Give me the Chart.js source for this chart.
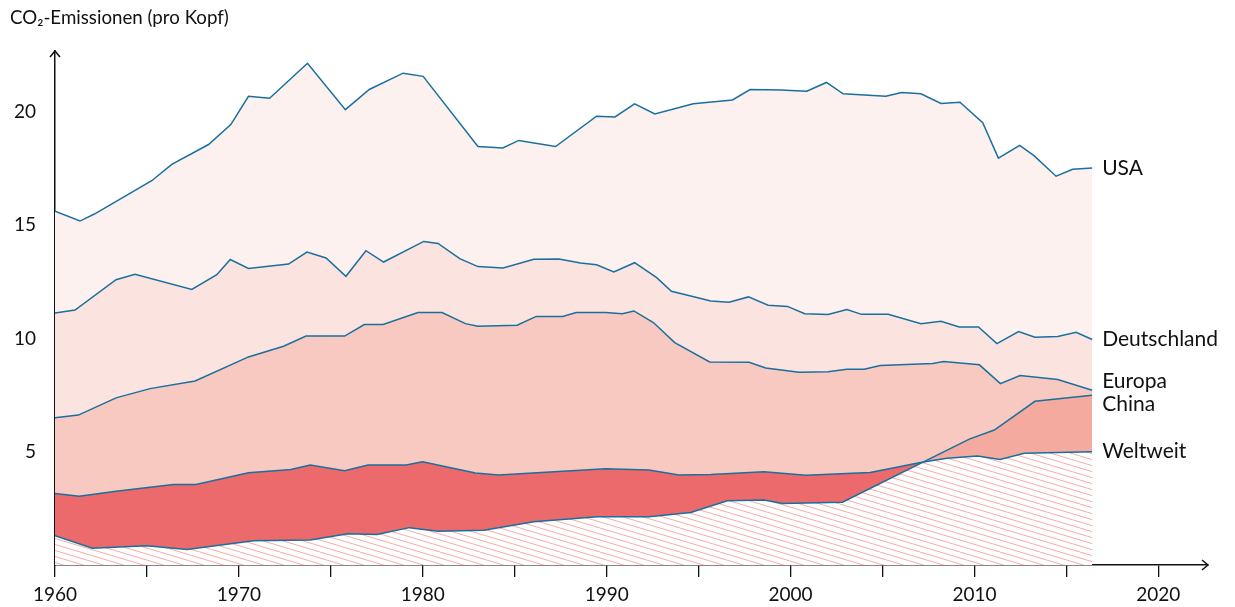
<!DOCTYPE html>
<html>
<head>
<meta charset="utf-8">
<script src="https://cdn.jsdelivr.net/npm/chart.js@4.4.1/dist/chart.umd.min.js"></script>
<style>
  html, body { margin: 0; padding: 0; background: #fff; }
  #wrap { width: 1235px; height: 607px; }
</style>
</head>
<body>
<div id="wrap"><canvas id="chart" width="1235" height="607"></canvas></div>
<script>
// CO2-Emissionen pro Kopf (t)
const usaYears = [1960, 1961.36, 1962.14, 1965.26, 1966.35, 1968.35, 1969.56, 1970.52, 1971.67, 1973.73, 1975.79, 1977.09, 1978.93, 1980.02, 1983.0, 1984.35, 1985.22, 1987.22, 1989.45, 1990.45, 1991.52, 1992.62, 1994.71, 1996.84, 1997.8, 1999.47, 2000.88, 2001.95, 2002.86, 2005.18, 2006.04, 2007.09, 2008.18, 2009.21, 2010.45, 2011.3, 2012.46, 2013.22, 2014.44, 2015.34, 2016.4];
const usaValues = [15.62, 15.19, 15.5, 16.97, 17.69, 18.57, 19.45, 20.7, 20.61, 22.16, 20.11, 21.0, 21.72, 21.58, 18.48, 18.42, 18.75, 18.48, 19.82, 19.79, 20.37, 19.92, 20.37, 20.54, 21.0, 20.98, 20.92, 21.31, 20.81, 20.7, 20.87, 20.81, 20.38, 20.44, 19.53, 17.97, 18.53, 18.09, 17.17, 17.48, 17.53];

const deuYears = [1960, 1961.09, 1963.32, 1964.35, 1967.44, 1968.8, 1969.53, 1970.52, 1972.7, 1973.7, 1974.74, 1975.82, 1976.91, 1977.87, 1980.05, 1980.83, 1982.01, 1983.0, 1984.37, 1986.04, 1987.4, 1988.58, 1989.45, 1990.39, 1991.52, 1992.72, 1993.52, 1994.57, 1995.66, 1996.65, 1997.71, 1998.78, 1999.83, 2000.77, 2002.04, 2003.06, 2003.86, 2005.31, 2007.09, 2008.18, 2009.17, 2010.22, 2011.22, 2012.4, 2013.29, 2014.53, 2015.53, 2016.4];
const deuValues = [11.13, 11.26, 12.6, 12.84, 12.17, 12.82, 13.49, 13.1, 13.29, 13.82, 13.56, 12.75, 13.88, 13.38, 14.29, 14.2, 13.53, 13.18, 13.12, 13.5, 13.51, 13.34, 13.26, 12.94, 13.35, 12.69, 12.09, 11.88, 11.66, 11.6, 11.84, 11.47, 11.42, 11.1, 11.06, 11.28, 11.07, 11.07, 10.66, 10.76, 10.51, 10.51, 9.78, 10.31, 10.06, 10.09, 10.28, 9.96];

const eurYears = [1960, 1961.27, 1963.32, 1965.17, 1967.62, 1970.52, 1972.43, 1973.65, 1975.75, 1976.82, 1977.84, 1979.74, 1981.05, 1982.32, 1983.0, 1985.13, 1986.17, 1987.61, 1988.34, 1989.94, 1990.85, 1991.48, 1992.54, 1993.7, 1995.6, 1997.74, 1998.65, 2000.46, 2002.04, 2003.06, 2004.0, 2004.88, 2007.73, 2008.33, 2010.27, 2011.41, 2012.48, 2014.53, 2016.4];
const eurValues = [6.5, 6.62, 7.38, 7.79, 8.13, 9.19, 9.66, 10.11, 10.11, 10.62, 10.62, 11.15, 11.15, 10.66, 10.54, 10.59, 10.98, 10.98, 11.15, 11.15, 11.1, 11.22, 10.71, 9.82, 8.97, 8.95, 8.7, 8.51, 8.53, 8.65, 8.65, 8.81, 8.9, 8.99, 8.84, 8.01, 8.37, 8.19, 7.72];

const weltYears = [1960, 1961.31, 1963.32, 1966.44, 1967.66, 1970.52, 1972.83, 1973.88, 1975.75, 1977.02, 1979.09, 1979.99, 1982.86, 1984.13, 1989.94, 1992.3, 1993.93, 1995.66, 1998.56, 2000.83, 2004.33, 2007.14, 2008.5, 2010.17, 2011.39, 2012.71, 2016.4];
const weltValues = [3.16, 3.04, 3.26, 3.56, 3.56, 4.07, 4.22, 4.42, 4.16, 4.42, 4.42, 4.56, 4.06, 3.97, 4.25, 4.2, 3.97, 4.0, 4.12, 3.96, 4.09, 4.54, 4.71, 4.81, 4.66, 4.93, 5.0];

const chnYears = [1960, 1962.03, 1964.99, 1967.17, 1970.8, 1973.88, 1975.93, 1977.51, 1979.27, 1980.83, 1983.32, 1986.04, 1989.49, 1992.3, 1994.57, 1996.56, 1998.56, 1999.56, 2002.82, 2009.72, 2011.08, 2013.29, 2016.4];
const chnValues = [1.29, 0.74, 0.85, 0.69, 1.07, 1.1, 1.38, 1.35, 1.65, 1.49, 1.53, 1.91, 2.13, 2.13, 2.32, 2.84, 2.87, 2.72, 2.77, 5.56, 5.96, 7.23, 7.5];

const xTicks = [1960, 1965, 1970, 1975, 1980, 1985, 1990, 1995, 2000, 2005, 2010, 2015, 2020];
const yTicks = [5, 10, 15, 20];

const LINE = "#1a6f9e";
const INK = "#111";

function pts(xs, ys) {
  return xs.map((x, i) => ({ x, y: ys[i] }));
}

// Schraffur fuer die Flaeche unter "Weltweit"
function hatch() {
  const w = 20, h = 6;
  const c = document.createElement("canvas");
  c.width = w; c.height = h;
  const g = c.getContext("2d");
  g.fillStyle = "#fff";
  g.fillRect(0, 0, w, h);
  g.strokeStyle = "#f6aca7";
  g.lineWidth = 1;
  [-h, 0, h].forEach((dy) => {
    g.beginPath();
    g.moveTo(0, dy);
    g.lineTo(w, dy + h);
    g.stroke();
  });
  return g.createPattern(c, "repeat");
}

const decorations = {
  id: "decorations",
  afterDraw(chart) {
    const { ctx, chartArea: a, scales: { x, y } } = chart;
    ctx.save();
    ctx.strokeStyle = INK;
    ctx.lineWidth = 1.5;
    ctx.beginPath();
    ctx.moveTo(a.left - 5, a.top + 6); ctx.lineTo(a.left, a.top); ctx.lineTo(a.left + 5, a.top + 6);
    ctx.moveTo(a.right - 6, a.bottom - 5); ctx.lineTo(a.right, a.bottom); ctx.lineTo(a.right - 6, a.bottom + 5);
    ctx.stroke();

    ctx.fillStyle = INK;
    ctx.textAlign = "left";
    ctx.textBaseline = "middle";
    ctx.font = "18.7px Lato";
    ctx.fillText("CO\u2082-Emissionen (pro Kopf)", 10, 18);

    // Beschriftung am Ende der Linien, Europa/China leicht auseinandergeschoben
    const nudge = { USA: 0, Deutschland: 0, Europa: -9, China: 9, Weltweit: -1 };
    ctx.font = "21px Lato";
    chart.data.datasets.forEach((ds) => {
      const last = ds.data[ds.data.length - 1];
      const px = x.getPixelForValue(last.x) + 10;
      const py = y.getPixelForValue(last.y) + (nudge[ds.label] || 0);
      ctx.fillText(ds.label, px, py);
    });
    ctx.restore();
  }
};

const lineBase = { borderColor: LINE, borderWidth: 1.5, pointRadius: 0, tension: 0 };

new Chart(document.getElementById("chart"), {
  type: "line",
  data: {
    datasets: [
      { ...lineBase, label: "USA", data: pts(usaYears, usaValues), order: 5, fill: "origin", backgroundColor: "#fcf1ef" },
      { ...lineBase, label: "Deutschland", data: pts(deuYears, deuValues), order: 4, fill: "origin", backgroundColor: "#fbe3df" },
      { ...lineBase, label: "Europa", data: pts(eurYears, eurValues), order: 3, fill: "origin", backgroundColor: "#f8c9c0" },
      { ...lineBase, label: "Weltweit", data: pts(weltYears, weltValues), order: 2, fill: "origin", backgroundColor: hatch() },
      { ...lineBase, label: "China", data: pts(chnYears, chnValues), order: 1,
        fill: { target: 3, above: "#f4aa9f", below: "#ec6a6b" } }
    ]
  },
  options: {
    responsive: false,
    animation: false,
    layout: { padding: { top: 51, right: 27, bottom: 0, left: 0 } },
    plugins: {
      legend: { display: false },
      tooltip: { enabled: false },
      filler: { drawTime: "beforeDatasetsDraw" }
    },
    scales: {
      x: {
        type: "linear",
        min: 1960,
        max: 2022.7,
        afterBuildTicks: (s) => { s.ticks = xTicks.map((v) => ({ value: v })); },
        afterFit: (s) => { s.height = 42; },
        ticks: {
          callback: (v) => (v % 10 === 0 ? String(v) : ""),
          font: { family: "Lato", size: 19 },
          color: INK,
          padding: 6,
          maxRotation: 0,
          autoSkip: false
        },
        grid: { display: true, drawOnChartArea: false, drawTicks: true, tickLength: 12, color: INK, lineWidth: 1.3 },
        border: { display: true, color: INK, width: 1.5 }
      },
      y: {
        type: "linear",
        min: 0,
        max: 22.7,
        afterBuildTicks: (s) => { s.ticks = yTicks.map((v) => ({ value: v })); },
        afterFit: (s) => { s.width = 55; },
        ticks: {
          font: { family: "Lato", size: 19 },
          color: INK,
          padding: 19
        },
        grid: { display: false, drawTicks: false },
        border: { display: true, color: INK, width: 1.5 }
      }
    }
  },
  plugins: [decorations]
});
</script>
</body>
</html>
